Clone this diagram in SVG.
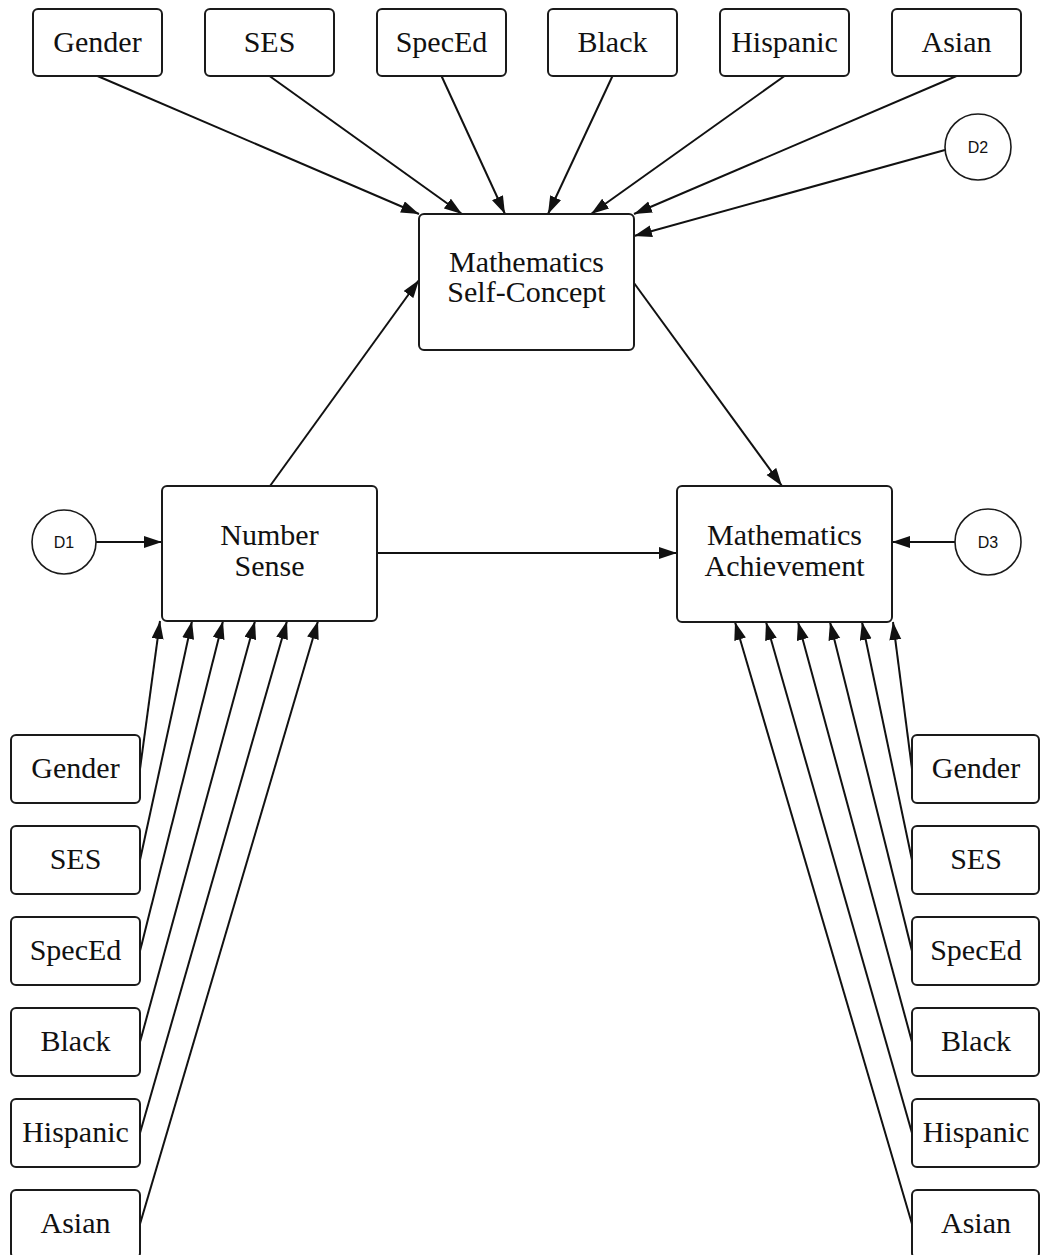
<svg xmlns="http://www.w3.org/2000/svg" width="1040" height="1255" viewBox="0 0 1040 1255">
<style>
.box{fill:#fff;stroke:#1a1a1a;stroke-width:2}
.circ{fill:#fff;stroke:#1a1a1a;stroke-width:1.6}
.lbl{font-family:"Liberation Serif",serif;font-size:30px;fill:#111;text-anchor:middle}
.d{font-family:"Liberation Sans",sans-serif;font-size:16px;fill:#111;text-anchor:middle}
.edge{stroke:#111;stroke-width:2;fill:none;marker-end:url(#ah)}
</style>
<defs>
<marker id="ah" markerUnits="userSpaceOnUse" markerWidth="19" markerHeight="13" refX="18" refY="6" orient="auto">
<path d="M0,0 L18,6 L0,12 z" fill="#111"/>
</marker>
</defs>
<g id="connectors">
<line class="edge" x1="97.5" y1="76" x2="419" y2="214"/>
<line class="edge" x1="269.5" y1="76" x2="462" y2="214"/>
<line class="edge" x1="441.5" y1="76" x2="505" y2="214"/>
<line class="edge" x1="612.5" y1="76" x2="548" y2="214"/>
<line class="edge" x1="784.5" y1="76" x2="591" y2="214"/>
<line class="edge" x1="956.5" y1="76" x2="634" y2="214"/>
<line class="edge" x1="945" y1="150" x2="634" y2="236"/>
<line class="edge" x1="270" y1="486" x2="419" y2="280"/>
<line class="edge" x1="634" y1="283" x2="782" y2="486"/>
<line class="edge" x1="96" y1="542" x2="162" y2="542"/>
<line class="edge" x1="377" y1="553" x2="677" y2="553"/>
<line class="edge" x1="955" y1="542" x2="892" y2="542"/>
<line class="edge" x1="140" y1="769" x2="160" y2="621"/>
<line class="edge" x1="140" y1="860" x2="192" y2="621"/>
<line class="edge" x1="140" y1="951" x2="223" y2="621"/>
<line class="edge" x1="140" y1="1042" x2="255" y2="621"/>
<line class="edge" x1="140" y1="1133" x2="287" y2="621"/>
<line class="edge" x1="140" y1="1224" x2="318" y2="621"/>
<line class="edge" x1="912" y1="769" x2="893" y2="622"/>
<line class="edge" x1="912" y1="860" x2="862" y2="622"/>
<line class="edge" x1="912" y1="951" x2="830" y2="622"/>
<line class="edge" x1="912" y1="1042" x2="798" y2="622"/>
<line class="edge" x1="912" y1="1133" x2="766" y2="622"/>
<line class="edge" x1="912" y1="1224" x2="735" y2="622"/>
</g>
<g id="top-gender"><rect class="box" x="33" y="9" width="129" height="67" rx="5"/><text class="lbl" x="97.5" y="52">Gender</text></g>
<g id="top-ses"><rect class="box" x="205" y="9" width="129" height="67" rx="5"/><text class="lbl" x="269.5" y="52">SES</text></g>
<g id="top-speced"><rect class="box" x="377" y="9" width="129" height="67" rx="5"/><text class="lbl" x="441.5" y="52">SpecEd</text></g>
<g id="top-black"><rect class="box" x="548" y="9" width="129" height="67" rx="5"/><text class="lbl" x="612.5" y="52">Black</text></g>
<g id="top-hispanic"><rect class="box" x="720" y="9" width="129" height="67" rx="5"/><text class="lbl" x="784.5" y="52">Hispanic</text></g>
<g id="top-asian"><rect class="box" x="892" y="9" width="129" height="67" rx="5"/><text class="lbl" x="956.5" y="52">Asian</text></g>
<g id="d2"><circle class="circ" cx="978" cy="147" r="33"/><text class="d" x="978" y="153">D2</text></g>
<g id="self-concept"><rect class="box" x="419" y="214" width="215" height="136" rx="5"/><text class="lbl" x="526.5" y="272">Mathematics</text><text class="lbl" x="526.5" y="302">Self-Concept</text></g>
<g id="d1"><circle class="circ" cx="64" cy="542" r="32"/><text class="d" x="64" y="548">D1</text></g>
<g id="number-sense"><rect class="box" x="162" y="486" width="215" height="135" rx="5"/><text class="lbl" x="269.5" y="545">Number</text><text class="lbl" x="269.5" y="576">Sense</text></g>
<g id="achievement"><rect class="box" x="677" y="486" width="215" height="136" rx="5"/><text class="lbl" x="784.5" y="545">Mathematics</text><text class="lbl" x="784.5" y="576">Achievement</text></g>
<g id="d3"><circle class="circ" cx="988" cy="542" r="33"/><text class="d" x="988" y="548">D3</text></g>
<g id="left-gender"><rect class="box" x="11" y="735" width="129" height="68" rx="5"/><text class="lbl" x="75.5" y="778">Gender</text></g>
<g id="left-ses"><rect class="box" x="11" y="826" width="129" height="68" rx="5"/><text class="lbl" x="75.5" y="869">SES</text></g>
<g id="left-speced"><rect class="box" x="11" y="917" width="129" height="68" rx="5"/><text class="lbl" x="75.5" y="960">SpecEd</text></g>
<g id="left-black"><rect class="box" x="11" y="1008" width="129" height="68" rx="5"/><text class="lbl" x="75.5" y="1051">Black</text></g>
<g id="left-hispanic"><rect class="box" x="11" y="1099" width="129" height="68" rx="5"/><text class="lbl" x="75.5" y="1142">Hispanic</text></g>
<g id="left-asian"><rect class="box" x="11" y="1190" width="129" height="68" rx="5"/><text class="lbl" x="75.5" y="1233">Asian</text></g>
<g id="right-gender"><rect class="box" x="912" y="735" width="127" height="68" rx="5"/><text class="lbl" x="976" y="778">Gender</text></g>
<g id="right-ses"><rect class="box" x="912" y="826" width="127" height="68" rx="5"/><text class="lbl" x="976" y="869">SES</text></g>
<g id="right-speced"><rect class="box" x="912" y="917" width="127" height="68" rx="5"/><text class="lbl" x="976" y="960">SpecEd</text></g>
<g id="right-black"><rect class="box" x="912" y="1008" width="127" height="68" rx="5"/><text class="lbl" x="976" y="1051">Black</text></g>
<g id="right-hispanic"><rect class="box" x="912" y="1099" width="127" height="68" rx="5"/><text class="lbl" x="976" y="1142">Hispanic</text></g>
<g id="right-asian"><rect class="box" x="912" y="1190" width="127" height="68" rx="5"/><text class="lbl" x="976" y="1233">Asian</text></g>
</svg>
